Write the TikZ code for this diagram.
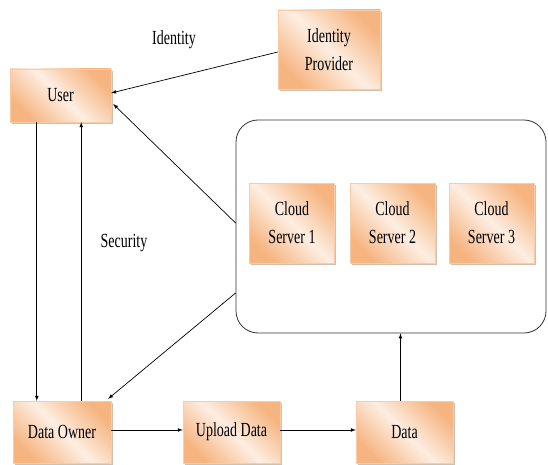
\documentclass[tikz,border=0pt]{standalone}
\usepackage{fontspec}
\setmainfont{Liberation Serif}[FakeStretch=0.7]
\usetikzlibrary{shadows}
\definecolor{peach}{RGB}{246,180,128}
\definecolor{pale}{RGB}{253,238,226}
\tikzset{
  box/.style={draw=peach!70, left color=peach, right color=peach, middle color=pale,
    shading angle=135, align=center, inner sep=2pt,
    drop shadow={shadow xshift=1.5pt, shadow yshift=-2pt, fill=brown!60!gray, opacity=.5}},
  lbl/.style={align=center}
}
\begin{document}
\begin{tikzpicture}[x=1pt,y=-1pt,>=latex,font=\fontsize{20}{28}\selectfont]
  \useasboundingbox (0,0) rectangle (548,465);

  % top row
  \node[box, minimum width=101pt, minimum height=53pt] (user) at (60.5,95.5) {User};
  \node[box, minimum width=102pt, minimum height=79pt] (idp) at (329,49.5) {Identity\\Provider};
  \node[lbl] (idlbl) at (174,40) {Identity};

  % the cloud with its servers
  \node[draw=black!80, line width=0.8pt, rounded corners=22pt, minimum width=310pt, minimum height=213pt] (cloud) at (391,226.5) {};
  \foreach \i/\x in {1/292,2/392.5,3/491.5} {
    \node[box, minimum width=85pt, minimum height=80pt] (cs\i) at (\x,223) {Cloud\\Server \i}; % one server
  }

  % bottom row
  \node[box, minimum width=98pt, minimum height=62pt] (owner) at (62,432) {Data Owner};
  \node[box, minimum width=97pt, minimum height=62pt] (upload) at (231.5,432) {Upload Data};
  \node[box, minimum width=97pt, minimum height=62pt] (data) at (404.5,432) {Data};
  \node[lbl] (seclbl) at (124,243) {Security};

  % connectors
  \draw[->, line width=0.7pt] ([yshift=-2.5pt]idp.west) -- ([yshift=2.5pt]user.east);
  \draw[->, line width=0.7pt] ([yshift=3.5pt]cloud.west) -- ([xshift=2pt,yshift=-8.5pt]user.east);
  \draw[->, line width=0.7pt] ([yshift=-66.5pt]cloud.west) -- ([xshift=-3pt,yshift=2pt]owner.north east);
  \draw[->, line width=0.7pt] ([xshift=27pt]user.south west) -- ([xshift=27pt]user.south west |- owner.north);
  \draw[->, line width=0.7pt] ([xshift=-30pt]user.south east |- owner.north) -- ([xshift=-30pt]user.south east);
  \draw[->, line width=0.7pt] ([yshift=2pt]owner.east) -- ([yshift=2pt]upload.west);
  \draw[->, line width=0.7pt] ([yshift=2pt]upload.east) -- ([yshift=2pt]data.west);
  \draw[->, line width=0.7pt] ([xshift=-4pt]data.north) -- ([xshift=-4pt]data.north |- cloud.south);
\end{tikzpicture}
\end{document}
